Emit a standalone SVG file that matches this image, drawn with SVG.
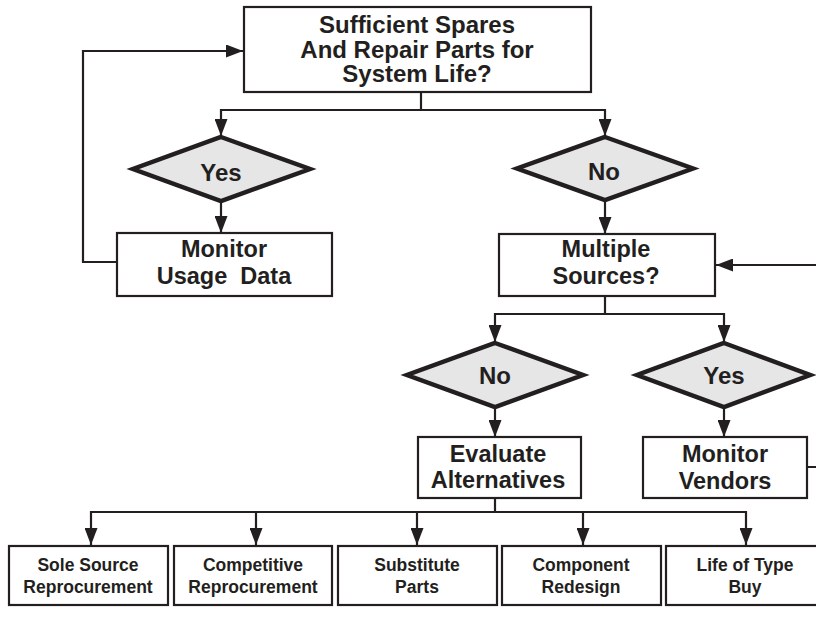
<svg xmlns="http://www.w3.org/2000/svg" width="816" height="633" viewBox="0 0 816 633">
<style>
.box{fill:#fff;stroke:#231f20;stroke-width:2.2}
.dia{fill:#e6e6e7;stroke:#231f20;stroke-width:4.5;stroke-linejoin:miter}
.con{fill:none;stroke:#231f20;stroke-width:2.2}
.arr{fill:none;stroke:#231f20;stroke-width:2.2;marker-end:url(#ah)}
text{font-family:"Liberation Sans",Arial,Helvetica,sans-serif;font-weight:bold;fill:#231f20;text-anchor:middle}
.t24{font-size:24px}
.t23{font-size:23.5px}
.t17{font-size:17.5px}
</style>
<defs>
<marker id="ah" markerUnits="userSpaceOnUse" markerWidth="17" markerHeight="13" refX="17" refY="6.5" viewBox="0 0 17 13" orient="auto">
<path d="M0,0 L17,6.5 L0,13 Z" fill="#231f20"/>
</marker>
</defs>
<rect width="816" height="633" fill="#fff"/>
<g id="connectors">
<path class="con" d="M421,92 V110"/>
<path class="arr" d="M421,110 H221 V136"/>
<path class="arr" d="M421,110 H605 V136"/>
<path class="arr" d="M221,202 V233"/>
<path class="arr" d="M117,262 H83 V51 H243"/>
<path class="arr" d="M605,201 V234"/>
<path class="arr" d="M807,467 H824 V265 H716"/>
<path class="con" d="M605,296 V314"/>
<path class="arr" d="M605,314 H495 V342"/>
<path class="arr" d="M605,314 H724 V342"/>
<path class="arr" d="M495,408 V437"/>
<path class="arr" d="M724,408 V437"/>
<path class="con" d="M495,498 V512"/>
<path class="arr" d="M495,512 H91 V545"/>
<path class="arr" d="M495,512 H256 V545"/>
<path class="arr" d="M495,512 H417 V545"/>
<path class="arr" d="M495,512 H583 V545"/>
<path class="arr" d="M495,512 H746 V545"/>
</g>
<g id="sufficient">
<rect class="box" x="244" y="7" width="347" height="85"/>
<text class="t24" x="417" y="33">Sufficient Spares</text>
<text class="t24" x="417" y="57.5">And Repair Parts for</text>
<text class="t24" x="417" y="82">System Life?</text>
</g>
<g id="yes1">
<polygon class="dia" points="221,137 310,169 221,201 133,169"/>
<text class="t24" x="221" y="181">Yes</text>
</g>
<g id="no1">
<polygon class="dia" points="605,137 693,168.5 605,200 517,168.5"/>
<text class="t24" x="604" y="180">No</text>
</g>
<g id="monitor-usage">
<rect class="box" x="117" y="233" width="215" height="63"/>
<text class="t23" x="224" y="257">Monitor</text>
<text class="t23" x="224" y="284" xml:space="preserve">Usage  Data</text>
</g>
<g id="multiple-sources">
<rect class="box" x="499" y="234" width="216" height="62"/>
<text class="t23" x="606" y="257">Multiple</text>
<text class="t23" x="606" y="284">Sources?</text>
</g>
<g id="no2">
<polygon class="dia" points="495,343 583,375 495,407 407,375"/>
<text class="t24" x="495" y="384">No</text>
</g>
<g id="yes2">
<polygon class="dia" points="724,343 810,375 724,407 637,375"/>
<text class="t24" x="724" y="384">Yes</text>
</g>
<g id="evaluate">
<rect class="box" x="418" y="437" width="163" height="61"/>
<text class="t23" x="498" y="462">Evaluate</text>
<text class="t23" x="498" y="488">Alternatives</text>
</g>
<g id="monitor-vendors">
<rect class="box" x="643" y="437" width="164" height="61"/>
<text class="t23" x="725" y="462">Monitor</text>
<text class="t23" x="725" y="489">Vendors</text>
</g>
<g id="sole-source">
<rect class="box" x="9" y="546" width="159" height="59"/>
<text class="t17" x="88" y="571">Sole Source</text>
<text class="t17" x="88" y="593">Reprocurement</text>
</g>
<g id="competitive">
<rect class="box" x="174" y="546" width="158" height="59"/>
<text class="t17" x="253" y="571">Competitive</text>
<text class="t17" x="253" y="593">Reprocurement</text>
</g>
<g id="substitute">
<rect class="box" x="338" y="546" width="159" height="59"/>
<text class="t17" x="417" y="571">Substitute</text>
<text class="t17" x="417" y="593">Parts</text>
</g>
<g id="redesign">
<rect class="box" x="502" y="546" width="159" height="59"/>
<text class="t17" x="581" y="571">Component</text>
<text class="t17" x="581" y="593">Redesign</text>
</g>
<g id="life-of-type">
<rect class="box" x="666" y="546" width="159" height="59"/>
<text class="t17" x="745" y="571">Life of Type</text>
<text class="t17" x="745" y="593">Buy</text>
</g>
</svg>
